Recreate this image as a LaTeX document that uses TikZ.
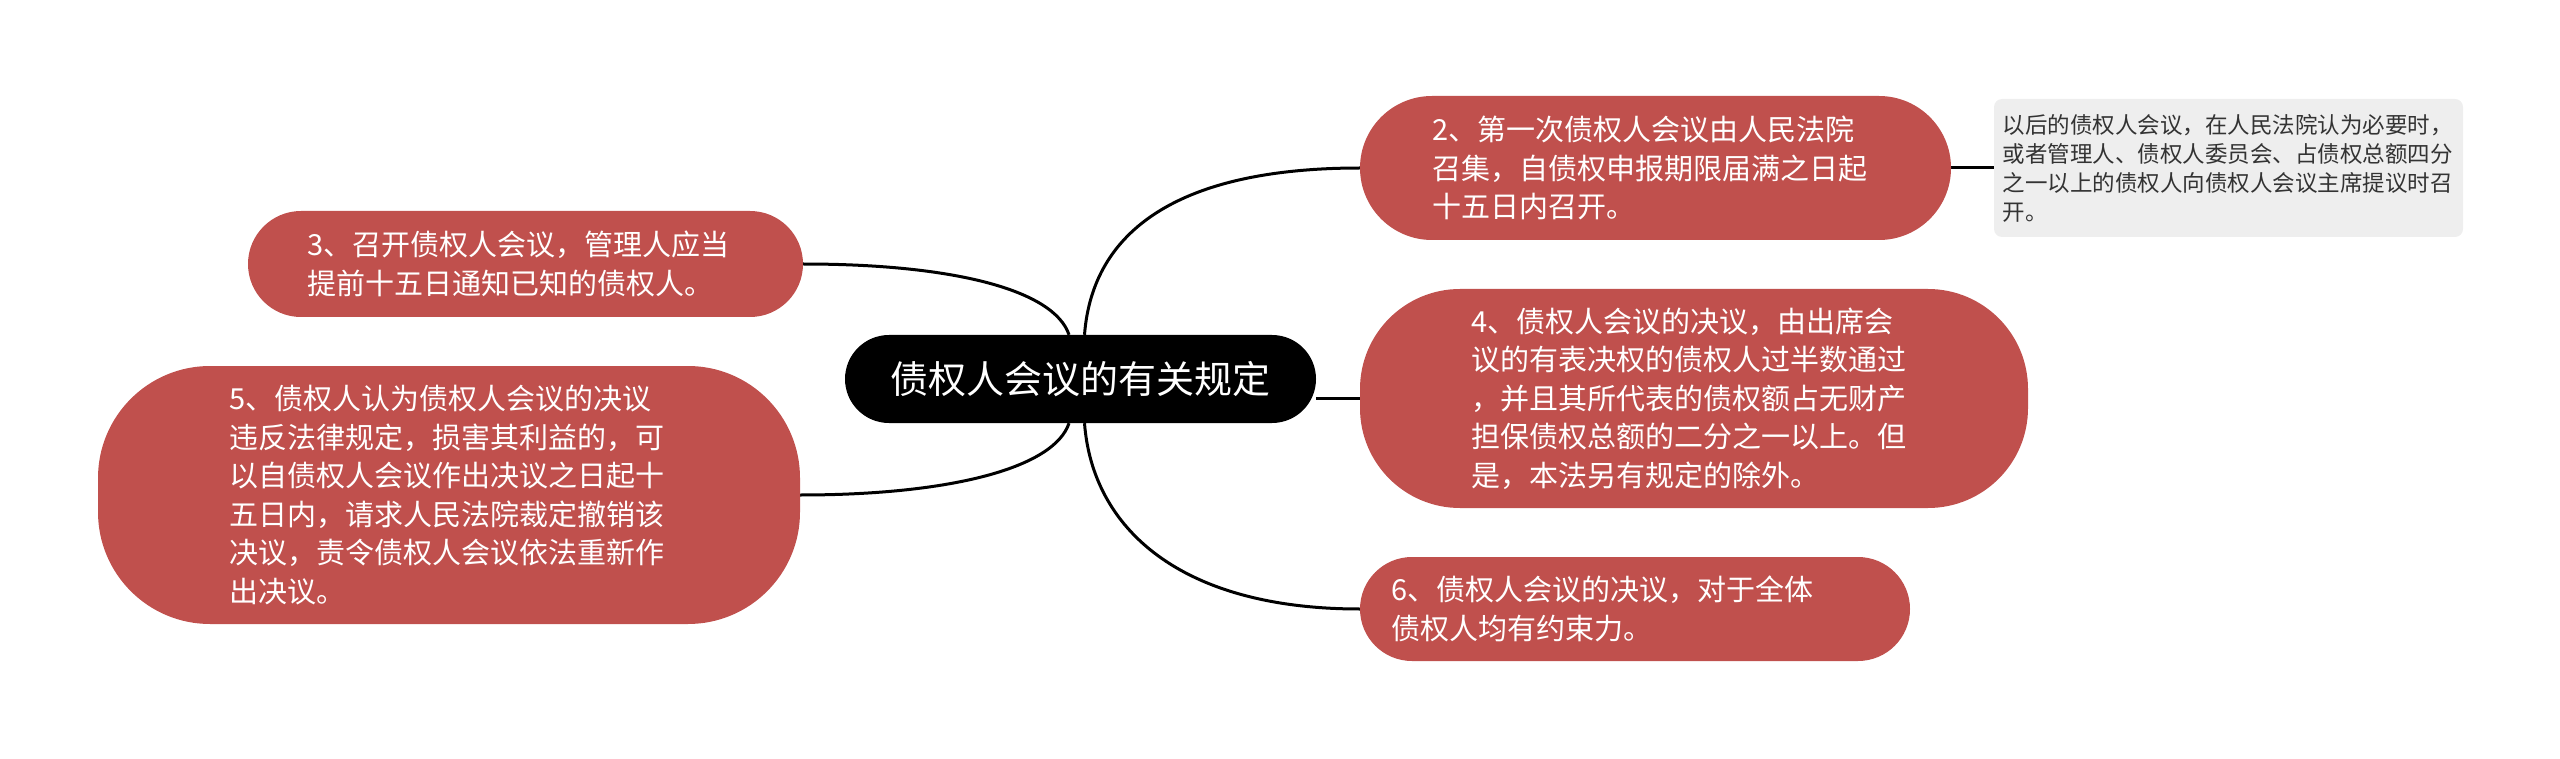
\documentclass[tikz,border=0pt]{standalone}
\usepackage{fontspec}
\setmainfont{Noto Sans CJK SC}
\usetikzlibrary{backgrounds,calc}
\definecolor{redfill}{HTML}{C0504D}
\definecolor{notefill}{HTML}{EEEEEE}
\definecolor{notetext}{HTML}{333333}
\tikzset{
  redbox/.style={fill=redfill, text=white, align=left, inner sep=0pt,
    font=\fontsize{29pt}{38.5pt}\selectfont},
  centerbox/.style={fill=black, text=white, inner sep=0pt, rounded corners=44pt,
    minimum width=471pt, minimum height=88pt, font=\fontsize{38pt}{46pt}\selectfont},
  notebox/.style={fill=notefill, text=notetext, align=left, inner sep=0pt, rounded corners=8pt,
    minimum width=469pt, minimum height=138pt, font=\fontsize{22.5pt}{29pt}\selectfont},
  link/.style={draw=black, line width=3pt}
}
\begin{document}
\begin{tikzpicture}[x=1pt,y=-1pt]
\useasboundingbox (0,0) rectangle (2560,759);
\node[centerbox] (c) at (1080.5,379) {债权人会议的有关规定};
\node[redbox, rounded corners=72pt, minimum width=591pt, minimum height=144pt, text width=447pt] (n2) at (1655.5,168)
  {2、第一次债权人会议由人民法院\\召集，自债权申报期限届满之日起\\十五日内召开。};
\node[notebox, text width=452pt] (note) at (2228.5,168)
  {以后的债权人会议，在人民法院认为必要时，\\或者管理人、债权人委员会、占债权总额四分\\之一以上的债权人向债权人会议主席提议时召\\开。};
\node[redbox, rounded corners=53pt, minimum width=555pt, minimum height=106pt, text width=437pt] (n3) at (525.5,264)
  {3、召开债权人会议，管理人应当\\提前十五日通知已知的债权人。};
\node[redbox, rounded corners=112pt, minimum width=702pt, minimum height=258pt, text width=440pt] (n5) at (449,495)
  {5、债权人认为债权人会议的决议\\违反法律规定，损害其利益的，可\\以自债权人会议作出决议之日起十\\五日内，请求人民法院裁定撤销该\\决议，责令债权人会议依法重新作\\出决议。};
\node[redbox, rounded corners=100pt, minimum width=668pt, minimum height=219pt, text width=446pt] (n4) at (1694,398.5)
  {4、债权人会议的决议，由出席会\\议的有表决权的债权人过半数通过\\，并且其所代表的债权额占无财产\\担保债权总额的二分之一以上。但\\是，本法另有规定的除外。};
\node[redbox, rounded corners=52pt, minimum width=550pt, minimum height=104pt, text width=488pt] (n6) at (1635,609)
  {6、债权人会议的决议，对于全体\\债权人均有约束力。};
\begin{scope}[on background layer]
  \draw[link] ([xshift=4pt]c.north) .. controls +(8,-105) and +(-180,0) .. (n2.west);
  \draw[link] ([xshift=4pt]c.south) .. controls +(8,105) and +(-180,0) .. (n6.west);
  \draw[link] (n3.east) .. controls +(150,0) and +(-15,-45) .. ([xshift=-11.5pt]c.north);
  \draw[link] (n5.east) .. controls +(150,0) and +(-15,45) .. ([xshift=-11.5pt]c.south);
  \draw[link] (c.east |- n4.west) -- (n4.west);
  \draw[link] (n2.east) -- (note.west);
\end{scope}
\end{tikzpicture}
\end{document}
